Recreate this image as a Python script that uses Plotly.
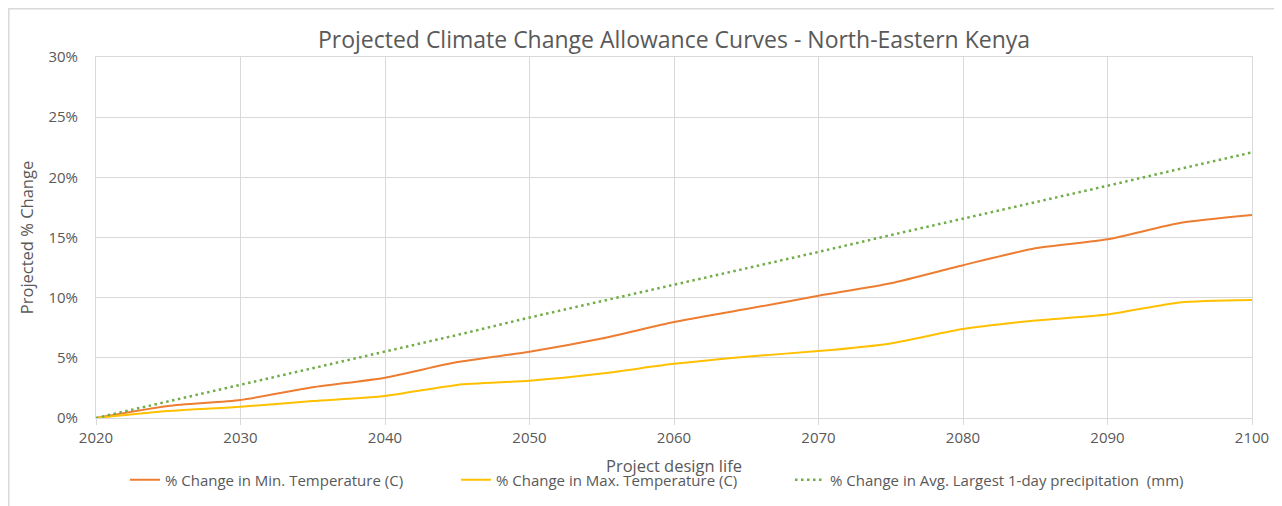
import plotly.graph_objects as go

years = [2020, 2025, 2030, 2035, 2040, 2045, 2050, 2055, 2060, 2065, 2070, 2075, 2080, 2085, 2090, 2095, 2100]
min_temp = [0.0, 1.0, 1.5, 2.55, 3.35, 4.65, 5.5, 6.6, 7.97, 9.05, 10.16, 11.2, 12.7, 14.1, 14.85, 16.2, 16.86]
max_temp = [0.0, 0.58, 0.94, 1.41, 1.83, 2.75, 3.1, 3.7, 4.5, 5.1, 5.56, 6.2, 7.39, 8.1, 8.6, 9.6, 9.8]
precip = [0.0, 1.38, 2.76, 4.14, 5.55, 6.9, 8.35, 9.7, 11.05, 12.4, 13.8, 15.2, 16.55, 17.95, 19.3, 20.7, 22.07]

series_names = [
    "% Change in Min. Temperature (C)",
    "% Change in Max. Temperature (C)",
    "% Change in Avg. Largest 1-day precipitation  (mm)",
]
x_ticks = [2020, 2030, 2040, 2050, 2060, 2070, 2080, 2090, 2100]
y_ticks = [0, 5, 10, 15, 20, 25, 30]
y_ticklabels = ["0%", "5%", "10%", "15%", "20%", "25%", "30%"]

FONT = "Open Sans"
GRAY = "#595959"
GRID = "#d9d9d9"

# page has an 8px body margin, so the figure is offset by (8, 8)
OFF = 8
W, H = 1282 - OFF, 506 - OFF
L, R, T, B = 96 - OFF, 30, 57 - OFF, 88
pw, ph = W - L - R, H - T - B


def px_x(px):
    return (px - 96) / pw


def px_y(py):
    return (418 - py) / ph


fig = go.Figure()
fig.add_trace(go.Scatter(x=years, y=[v / 100 for v in min_temp], mode="lines", name=series_names[0],
                         legend="legend",
                         line=dict(color="#ED7D31", width=2, shape="spline", smoothing=0.6)))
fig.add_trace(go.Scatter(x=years, y=[v / 100 for v in max_temp], mode="lines", name=series_names[1],
                         legend="legend2",
                         line=dict(color="#FFC000", width=2, shape="spline", smoothing=0.6)))
fig.add_trace(go.Scatter(x=years, y=[v / 100 for v in precip], mode="lines", name=series_names[2],
                         legend="legend3",
                         line=dict(color="#70AD47", width=2.5, dash="2.5px,3.5px")))

leg_common = dict(orientation="h", xanchor="left", yanchor="middle", y=px_y(480),
                  font=dict(family=FONT, size=15, color=GRAY), bgcolor="rgba(0,0,0,0)")

fig.update_layout(
    width=W, height=H,
    margin=dict(l=L, r=R, t=T, b=B, autoexpand=False),
    paper_bgcolor="white", plot_bgcolor="white",
    font=dict(family=FONT, color=GRAY, size=15),
    title=dict(text="Projected Climate Change Allowance Curves - North-Eastern Kenya",
               x=0.5, xanchor="center", xref="paper", y=1 - (40 - OFF) / H, yref="container", yanchor="middle",
               font=dict(family=FONT, size=23, color=GRAY)),
    showlegend=True,
    legend=dict(x=px_x(125), **leg_common),
    legend2=dict(x=px_x(456), **leg_common),
    legend3=dict(x=px_x(790), **leg_common),
    xaxis=dict(range=[2020, 2100], tickvals=x_ticks, ticktext=[str(v) for v in x_ticks],
               showgrid=True, gridcolor=GRID, gridwidth=1, zeroline=False,
               showline=True, linecolor=GRID, linewidth=1, mirror=True,
               ticks="outside", ticklen=6, tickcolor=GRID, automargin=False,
               tickfont=dict(family=FONT, size=15, color=GRAY),
               title=dict(text="Project design life", standoff=14, font=dict(family=FONT, size=16.5, color=GRAY))),
    yaxis=dict(range=[0, 0.30], tickvals=[v / 100 for v in y_ticks], ticktext=y_ticklabels,
               showgrid=True, gridcolor=GRID, gridwidth=1, zeroline=False,
               showline=True, linecolor=GRID, linewidth=1, mirror=True,
               ticks="", ticklabelstandoff=14, automargin=False,
               tickfont=dict(family=FONT, size=15, color=GRAY),
               title=dict(text="Projected % Change", standoff=10, font=dict(family=FONT, size=16.5, color=GRAY))),
)

fig.add_shape(type="rect", xref="paper", yref="paper",
              x0=px_x(8.8), x1=px_x(1279.5), y0=px_y(515), y1=px_y(8.8),
              line=dict(color=GRID, width=1.5), fillcolor="rgba(0,0,0,0)", layer="below")

fig.write_html("out.html")
